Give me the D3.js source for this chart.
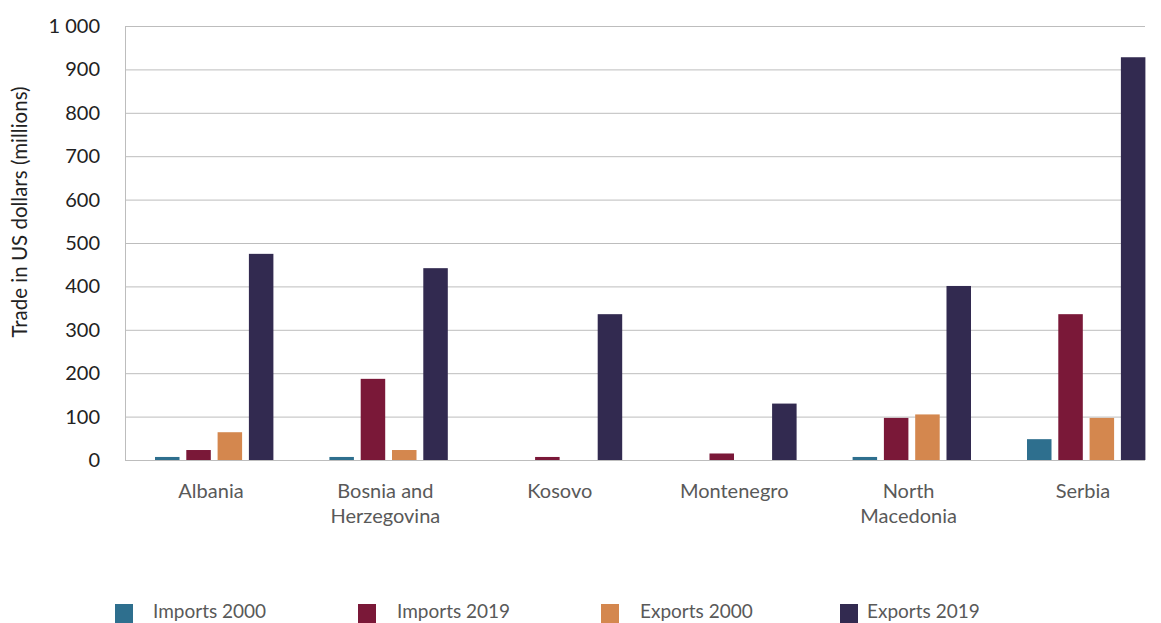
<!DOCTYPE html>
<html><head><meta charset="utf-8">
<script src="https://cdn.jsdelivr.net/npm/d3@7"></script>
<style>body{margin:0;background:#fff;}svg{display:block;font-family:Lato,"Open Sans",sans-serif;}</style>
</head><body>
<svg id="c" width="1161" height="623"></svg>
<script>
const categories = [["Albania"],["Bosnia and","Herzegovina"],["Kosovo"],["Montenegro"],["North","Macedonia"],["Serbia"]];
const seriesNames = ["Imports 2000","Imports 2019","Exports 2000","Exports 2019"];
const imports2000 = [7, 7, 0, 0, 7, 48];
const imports2019 = [23, 187, 7, 15, 97, 336];
const exports2000 = [64, 23, 0, 0, 105, 97];
const exports2019 = [475, 442, 336, 130, 401, 928];
const yTicks = [0,100,200,300,400,500,600,700,800,900,1000];
const colors = ["#2e6f8e","#7a1838","#d4874e","#322a50"];
const seriesValues = [imports2000, imports2019, exports2000, exports2019];

const svg = d3.select("#c");
const m = {l:125, r:1145, t:26, b:460};
const groupStep = 174.4;
const x0 = d3.scaleBand().domain(d3.range(categories.length)).range([m.l, m.l + groupStep*categories.length]).padding(0);
const x1 = d3.scaleBand().domain(d3.range(seriesNames.length)).range([30, 148.4]).paddingInner(0.217).paddingOuter(0);
const y = d3.scaleLinear().domain([0,1000]).range([m.b, m.t]);
const fmt = v => d3.format(",")(v).replace(/,/g," ");

// grid
svg.append("g").selectAll("line").data(yTicks).join("line")
  .attr("x1", m.l).attr("x2", m.r).attr("y1", d=>y(d)+0.5).attr("y2", d=>y(d)+0.5)
  .attr("stroke","#bdbdbd").attr("stroke-width",1);
svg.append("line").attr("x1",m.l+0.5).attr("x2",m.l+0.5).attr("y1",m.t).attr("y2",m.b)
  .attr("stroke","#bdbdbd");

// y axis labels
const ya = svg.append("g").attr("transform",`translate(${m.l-25},0)`)
  .call(d3.axisLeft(y).tickValues(yTicks).tickFormat(fmt).tickSize(0).tickPadding(0));
ya.select(".domain").remove();
ya.selectAll("text").attr("font-size",20).attr("fill","#222").attr("font-family","Lato,sans-serif");

svg.append("text").attr("transform","translate(27,212) rotate(-90)")
  .attr("text-anchor","middle").attr("font-size",20.5).attr("fill","#222").text("Trade in US dollars (millions)");

// bars
const g = svg.append("g");
categories.forEach((c,i)=>{
  seriesValues.forEach((arr,s)=>{
    if(arr[i] <= 0) return;
    g.append("rect").attr("x", x0(i)+x1(s)).attr("width", x1.bandwidth())
      .attr("y", y(arr[i])).attr("height", y(0)-y(arr[i])).attr("fill", colors[s]);
  });
  const cx = x0(i) + 86;
  const t = svg.append("text").attr("text-anchor","middle").attr("font-size",20).attr("fill","#595959")
    .attr("x", cx).attr("y", 498);
  c.forEach((ln,k)=> t.append("tspan").attr("x", cx).attr("dy", k?25:0).text(ln));
});

// legend
const lx = [115, 358, 601, 840];
const tx = [153, 397, 640, 867];
const leg = svg.append("g");
seriesNames.forEach((n,s)=>{
  leg.append("rect").attr("x", lx[s]).attr("y", 604).attr("width", 18).attr("height", 19).attr("fill", colors[s]);
  leg.append("text").attr("x", tx[s]).attr("y", 618).attr("font-size",19).attr("fill","#595959").text(n);
});
</script>
</body></html>
